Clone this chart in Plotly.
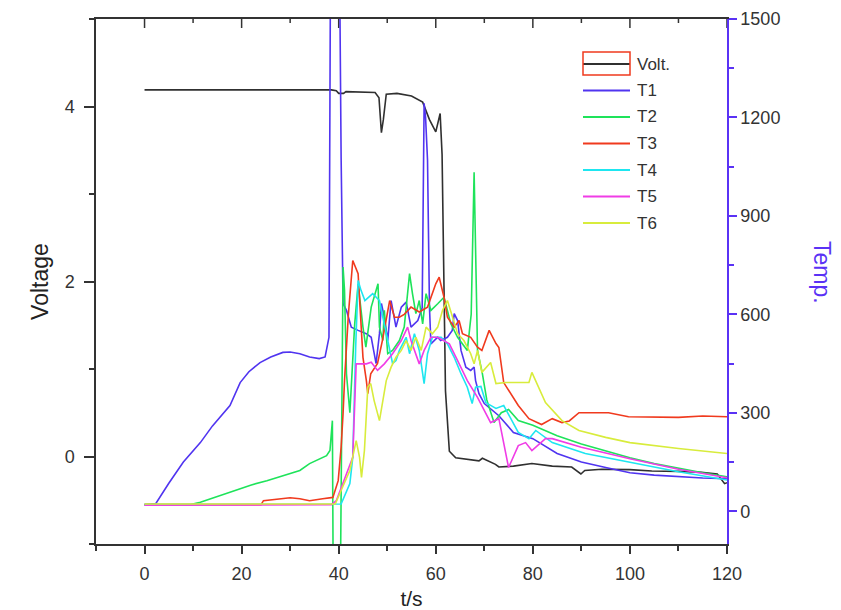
import plotly.graph_objects as go

# ---- data ---------------------------------------------------------------
volt_t = [0, 38.5, 39.5, 40, 41, 41.5, 47.5, 48.3, 48.8, 49.2, 49.8, 52, 55, 56.5, 57.3,
          58.7, 60, 60.9, 61.3, 62.0, 62.6, 62.8, 64.1, 66, 68.9, 69.6, 72.3, 73, 76,
          79.8, 84, 88, 89.9, 90.7, 94.2, 100, 104.5, 110, 114.7, 118, 119.5, 120]
volt_v = [4.19, 4.19, 4.18, 4.15, 4.15, 4.17, 4.16, 4.10, 3.70, 3.85, 4.14, 4.15, 4.12, 4.08, 4.05,
          3.85, 3.71, 3.92, 3.45, 0.75, 0.25, 0.06, -0.015, -0.03, -0.05, -0.02, -0.09, -0.12, -0.11,
          -0.08, -0.11, -0.12, -0.20, -0.16, -0.145, -0.15, -0.165, -0.17, -0.18, -0.2, -0.31, -0.3]

t1_t = [0, 2.3, 5, 8, 11.5, 14, 17.6, 19.7, 21.5, 23.8, 26, 28.5, 30, 32, 34, 36, 37.2, 38.0,
        38.4, 40.0, 40.5, 40.9, 41.6, 42.6, 44, 45.7, 46.7, 47.4, 47.7, 48.4, 48.8, 49.4, 50.1,
        50.8, 51.8, 52.9, 53.9, 54.9, 56.3, 57.2, 57.6, 57.9, 58.3, 58.7, 59, 60.4, 61, 62.4,
        63.4, 63.8, 64.5, 65.2, 66.2, 67.2, 67.9, 68.2, 68.9, 70, 73, 76, 80, 85, 90, 95, 100,
        105, 110, 115, 120]
t1_v = [20, 23, 85, 150, 209, 260, 322, 392, 425, 453, 470, 484, 485, 480, 470, 465, 470, 530,
        2000, 2000, 1078, 633, 612, 561, 551, 541, 530, 480, 450, 541, 633, 591, 520,
        642, 561, 622, 637, 561, 581, 620, 1243, 1200, 1070, 622, 510, 530, 520, 530,
        551, 602, 581, 490, 439, 429, 439, 398, 358, 328, 291, 240, 221, 176, 150, 133, 117,
        110, 105, 101, 99]

t2_t = [0, 9.5, 11.5, 14, 18.3, 22, 25.2, 28, 32, 34, 37.5, 38.2, 38.7, 38.9, 40.3, 40.9, 41.2,
        41.6, 42.3, 43.3, 44, 45, 45.6, 46.7, 47.7, 48.1, 48.4, 49.1, 49.4, 50.1, 51.1, 52.5,
        53.5, 54.6, 55.2, 55.9, 56.6, 57.3, 58, 59, 60.4, 61.7, 63.1, 64.5, 66.5, 67.3, 67.9,
        68.3, 68.6, 69.6, 70.5, 72, 73.5, 75, 77, 80, 85, 90, 95, 100, 105, 110, 115, 120]
t2_v = [20, 20, 27, 40, 62, 80, 93, 105, 124, 145, 169, 185, 276, -300, -300, 744, 673,
        419, 300, 571, 693, 561, 500, 622, 673, 693, 561, 520, 612, 480, 490, 520,
        561, 724, 663, 602, 642, 571, 663, 612, 632, 652, 571, 530, 490, 600, 1033,
        700, 490, 419, 340, 270, 300, 310, 276, 262, 230, 205, 183, 163, 145, 130, 117, 105]

t3_t = [0, 24, 24.5, 28, 30, 32, 34, 36.7, 38.8, 39.9, 40.5, 40.9, 41.2, 42, 42.9, 44, 44.6,
        45, 45.7, 46, 46.6, 48, 49, 50.5, 51.5, 52.5, 53.5, 54.9, 56.6, 58.3, 60, 60.7, 61.7,
        62.4, 63.8, 64.8, 65.5, 67.2, 68.6, 69.5, 71, 72.4, 73, 74, 77, 79.2, 81.8, 84, 86,
        87.5, 89.5, 95.6, 99.7, 105, 110, 115, 120]
t3_v = [20, 20, 32, 38, 41, 38, 32, 38, 42, 93, 195, 297, 398, 600, 764, 724, 591,
        469, 398, 358, 419, 450, 520, 642, 591, 591, 600, 622, 607, 622, 693, 713, 652,
        591, 561, 581, 541, 530, 500, 490, 551, 511, 499, 392, 322, 282, 264, 282, 270,
        275, 300, 300, 288, 288, 286, 290, 288]

t4_t = [0, 39, 40.5, 42.3, 42.9, 43.5, 44, 44.6, 45.4, 47, 48.4, 49.1, 50.1, 51.1, 51.8, 52.5,
        53.9, 54.6, 55.6, 56.6, 57.6, 58.3, 59.3, 61.1, 62.4, 63.8, 65.2, 66.5, 67.5, 68.2,
        69.3, 70.3, 72.4, 74, 77, 79.2, 80.6, 84, 90.8, 100, 110, 120]
t4_v = [20, 20, 22, 84, 164, 500, 703, 673, 642, 663, 642, 591, 520, 450, 459, 490,
        530, 480, 541, 490, 389, 480, 530, 530, 510, 469, 419, 378, 328, 378,
        380, 331, 313, 322, 240, 221, 246, 209, 176, 150, 120, 95]

t5_t = [0, 38.5, 39.5, 41.6, 42.9, 43.6, 45.7, 46.7, 48, 49.4, 51.1, 52.9, 54.2, 54.9, 56.6,
        57.6, 59, 60.4, 61.7, 62.8, 64.5, 66.5, 68.6, 69.5, 71.3, 73, 75, 77, 78.5, 79.8, 82.6,
        84, 90, 100, 110, 120]
t5_v = [18, 20, 32, 113, 164, 449, 449, 454, 429, 449, 480, 520, 561, 520, 449,
        490, 530, 530, 520, 510, 459, 398, 347, 320, 270, 282, 133, 200, 209, 185, 221,
        221, 195, 160, 128, 102]

t6_t = [0, 39.3, 40.5, 42.3, 43.6, 44.3, 44.7, 45.3, 46, 46.6, 47.3, 48.4, 49.8, 50.8, 51.8,
        52.9, 53.9, 54.9, 55.9, 57, 58, 59.3, 60.4, 61.4, 62.4, 63.4, 64.5, 65.8, 67.2, 67.9,
        68.6, 69.5, 71.3, 72.4, 74.4, 79.2, 79.8, 82.6, 86, 89.5, 95, 100, 110, 120]
t6_v = [22, 22, 63, 124, 215, 164, 103, 185, 378, 389, 337, 276, 398, 439, 469,
        490, 520, 490, 530, 490, 561, 541, 561, 612, 642, 591, 541, 520, 480, 449,
        490, 423, 453, 389, 392, 392, 423, 331, 276, 246, 225, 209, 191, 176]

series_names = ["T1", "T2", "T3", "T4", "T5", "T6"]
series_t = [t1_t, t2_t, t3_t, t4_t, t5_t, t6_t]
series_v = [t1_v, t2_v, t3_v, t4_v, t5_v, t6_v]
series_colors = ["#5034f0", "#1ee35a", "#f03a1e", "#1ee6f0", "#f03ce6", "#d8ec3c"]
volt_color = "#303030"
temp_axis_color = "#5a32f5"

x_range = [-10, 120]
v_range = [-1, 5]
x_ticks = [0, 20, 40, 60, 80, 100, 120]
x_minor_ticks = [10, 30, 50, 70, 90, 110]
v_ticks = [0, 2, 4]
temp_ticks = [0, 300, 600, 900, 1200, 1500]

# ---- figure ---------------------------------------------------------------
W, H = 841, 610
L, R, T, B = 96, 727, 19, 544          # plot-area edges in pixels
PH = B - T

fig = go.Figure()
fig.add_trace(go.Scatter(x=volt_t, y=volt_v, mode="lines", name="Volt.",
                         line=dict(color=volt_color, width=1.6), showlegend=False))
for name, tt, vv, c in zip(series_names, series_t, series_v, series_colors):
    fig.add_trace(go.Scatter(x=tt, y=vv, mode="lines", name=name, yaxis="y2",
                             line=dict(color=c, width=1.6), showlegend=False))

# inward-pointing ticks hanging from the top frame, built from the tick lists
px_per_v = PH / (v_range[1] - v_range[0])
tick_x, tick_y = [], []
for xv, tl in [(v, 9) for v in x_ticks] + [(v, 4) for v in x_minor_ticks]:
    tick_x += [xv, xv, None]
    tick_y += [v_range[1], v_range[1] - tl / px_per_v, None]
fig.add_trace(go.Scatter(x=tick_x, y=tick_y, mode="lines", showlegend=False,
                         hoverinfo="skip", line=dict(color="#333333", width=1.5)))

font_family = "Liberation Sans, Arial, sans-serif"
tick_font = dict(family=font_family, size=18, color="#333333")

fig.update_layout(
    width=W, height=H,
    margin=dict(l=L, r=W - R, t=T, b=H - B),
    paper_bgcolor="white", plot_bgcolor="white",
    xaxis=dict(range=x_range, tickvals=x_ticks, ticks="outside", ticklen=8,
               tickwidth=1.5, tickcolor="#333333", showline=True, linecolor="#333333",
               linewidth=1.5, showgrid=False, zeroline=False, tickfont=tick_font,
               ticklabelstandoff=5, mirror=True, automargin=False,
               minor=dict(dtick=10, tick0=0, ticks="outside", ticklen=5,
                          tickwidth=1.5, tickcolor="#333333"),
               title=dict(text="t/s", font=dict(family=font_family, size=21, color="#222222"),
                          standoff=8)),
    yaxis=dict(range=v_range, tickvals=v_ticks, ticks="outside", ticklen=10,
               tickwidth=1.5, tickcolor="#333333", showline=True, linecolor="#333333",
               linewidth=1.5, showgrid=False, zeroline=False, tickfont=tick_font,
               ticklabelstandoff=6, automargin=False,
               minor=dict(dtick=1, tick0=0, ticks="outside", ticklen=5,
                          tickwidth=1.5, tickcolor="#333333"),
               title=dict(text="Voltage", font=dict(family=font_family, size=23, color="#222222"),
                          standoff=10)),
    yaxis2=dict(range=[-100, 1500], overlaying="y", side="right", anchor="x",
                tickvals=temp_ticks, ticks="outside", ticklen=8, tickwidth=1.5,
                tickcolor=temp_axis_color, showline=True, linecolor=temp_axis_color,
                linewidth=1.5, showgrid=False, zeroline=False, tickfont=tick_font,
                automargin=False,
                minor=dict(dtick=150, tick0=0, ticks="outside", ticklen=5,
                           tickwidth=1.5, tickcolor=temp_axis_color)),
)

# right-hand axis title, reading top to bottom
fig.add_annotation(x=(822 - L) / (R - L), y=(B - 272) / PH, xref="paper", yref="paper",
                   text="Temp.", textangle=90, showarrow=False,
                   xanchor="center", yanchor="middle",
                   font=dict(family=font_family, size=23, color=temp_axis_color))

# ---- legend ----------------------------------------------------------------
def px_x(p):
    return (p - L) / (R - L)

def px_y(p):
    return (B - p) / PH

legend_names = ["Volt."] + series_names
legend_colors = [volt_color] + series_colors
row_y0, row_step = 64, 26.5
for i, (nm, c) in enumerate(zip(legend_names, legend_colors)):
    yy = row_y0 + i * row_step
    fig.add_shape(type="line", xref="paper", yref="paper",
                  x0=px_x(583), x1=px_x(630), y0=px_y(yy), y1=px_y(yy),
                  line=dict(color=c, width=2))
    fig.add_annotation(x=px_x(635), y=px_y(yy), xref="paper", yref="paper",
                       text=nm, showarrow=False, xanchor="left", yanchor="middle",
                       font=dict(family=font_family, size=17, color="#333333"))
fig.add_shape(type="rect", xref="paper", yref="paper",
              x0=px_x(583), x1=px_x(630), y0=px_y(75), y1=px_y(52),
              line=dict(color="#f03a1e", width=1.5))

fig.write_html("out.html")
